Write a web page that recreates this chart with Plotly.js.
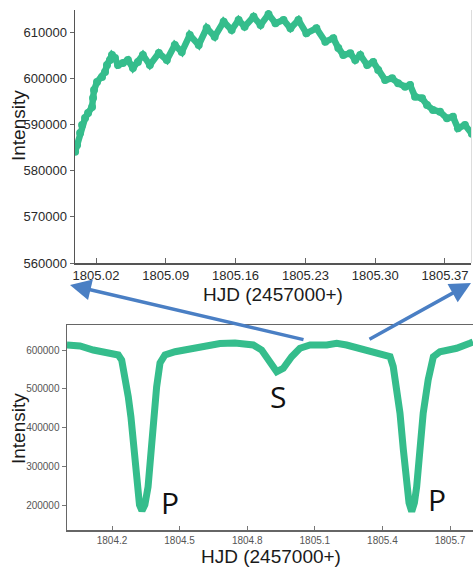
<!DOCTYPE html>
<html>
<head>
<meta charset="utf-8">
<script src="https://cdn.plot.ly/plotly-3.0.1.min.js"></script>
<style>html,body{margin:0;padding:0;background:#fff;}#chart{width:473px;height:569px;}</style>
</head>
<body>
<div id="chart"></div>
<script>
// Zoomed light curve (top panel)
const zoomHJD = [1804.999,1805.001,1805.004,1805.006,1805.009,1805.012,1805.016,1805.017,1805.018,1805.021,
  1805.026,1805.029,1805.031,1805.034,1805.036,1805.039,1805.042,1805.047,1805.052,1805.057,
  1805.062,1805.067,1805.074,1805.083,1805.091,1805.099,1805.106,1805.114,1805.123,1805.131,
  1805.139,1805.148,1805.156,1805.163,1805.169,1805.178,1805.185,1805.193,1805.200,1805.208,
  1805.215,1805.223,1805.231,1805.241,1805.250,1805.258,1805.263,1805.268,1805.275,1805.280,
  1805.285,1805.292,1805.298,1805.303,1805.310,1805.317,1805.323,1805.330,1805.335,1805.340,
  1805.347,1805.352,1805.358,1805.365,1805.372,1805.378,1805.383,1805.390,1805.397];
const zoomIntensity = [584100,585580,588180,589910,591430,592510,593810,595760,597500,599230,
  600310,601400,602910,604000,605080,604430,602910,603350,604000,602260,
  603560,605080,602910,605510,604000,607250,605730,609410,607250,610930,
  609050,612300,610500,612670,611210,613380,611580,613900,611950,612670,
  610870,612670,609780,610870,607960,608700,606600,605080,605450,604000,
  605080,602910,603560,601830,599660,600030,598950,598210,598580,596040,
  595700,594250,593160,592790,591360,591710,589200,589910,588000];

// Full light curve (bottom panel)
const fullHJD = [1804.000,1804.058,1804.117,1804.169,1804.228,1804.243,1804.258,1804.272,1804.284,1804.298,
  1804.311,1804.322,1804.333,1804.346,1804.360,1804.373,1804.383,1804.398,1804.413,1804.435,
  1804.480,1804.546,1804.613,1804.679,1804.746,1804.827,1804.864,1804.901,1804.931,1804.960,
  1804.997,1805.034,1805.079,1805.153,1805.197,1805.241,1805.300,1805.359,1805.434,1805.448,
  1805.463,1805.478,1805.493,1805.508,1805.518,1805.530,1805.542,1805.552,1805.567,1805.581,
  1805.603,1805.626,1805.655,1805.729,1805.788,1805.802];
const fullIntensity = [612900,610300,600000,592300,587100,574200,531200,479700,427300,342300,
  247000,200600,185100,200600,247000,342300,427300,504700,566500,587100,
  595600,602600,610300,616700,618000,612900,600000,569800,544100,552800,
  582700,604400,612900,612900,617300,612900,604400,595600,582700,557000,
  505400,436900,342300,257300,205700,183300,205700,247000,342300,436900,
  522700,582700,595600,604400,617300,620600];

const topYTicks = [560000,570000,580000,590000,600000,610000];
const topXTicks = [1805.02,1805.09,1805.16,1805.23,1805.30,1805.37];
const botYTicks = [200000,300000,400000,500000,600000];
const botXTicks = [1804.2,1804.5,1804.8,1805.1,1805.4,1805.7];
const xTitle = 'HJD (2457000+)';
const yTitle = 'Intensity';
const eclipseLabels = ['P','S','P'];

const green = '#35bd8c';
const blue = '#4a7fc4';
const W = 473, H = 569;
const px = v => v / W;
const py = v => 1 - v / H;

const traces = [
  {x: zoomHJD, y: zoomIntensity, xaxis: 'x', yaxis: 'y', type: 'scatter', mode: 'lines+markers',
   line: {color: green, width: 6.5}, marker: {color: green, size: 8}, hoverinfo: 'x+y'},
  {x: fullHJD, y: fullIntensity, xaxis: 'x2', yaxis: 'y2', type: 'scatter', mode: 'lines',
   line: {color: green, width: 7}, hoverinfo: 'x+y'}
];

const tickFontTop = {family: 'Liberation Sans, Arial, sans-serif', size: 13, color: '#2a2a2a'};
const tickFontBot = {family: 'Liberation Sans, Arial, sans-serif', size: 10, color: '#555'};
const titleFont = {family: 'Liberation Sans, Arial, sans-serif', size: 19, color: '#1a1a1a'};
const labelFont = {family: 'Open Sans, sans-serif', size: 30, color: '#111'};

const layout = {
  width: W, height: H,
  margin: {l: 0, r: 0, t: 0, b: 0},
  paper_bgcolor: '#fff', plot_bgcolor: '#fff',
  showlegend: false,
  xaxis: {domain: [px(75), px(471)], range: [1804.9989, 1805.3961], anchor: 'y',
    tickvals: topXTicks, ticktext: topXTicks.map(v => v.toFixed(2)),
    ticks: 'inside', ticklen: 5, tickcolor: '#666', showgrid: false, zeroline: false,
    showline: true, linecolor: '#555', linewidth: 1.5, tickfont: tickFontTop},
  yaxis: {domain: [py(263), py(10)], range: [560000, 614834], anchor: 'x',
    tickvals: topYTicks, ticktext: topYTicks.map(v => String(v)),
    ticks: 'outside', ticklen: 4, tickcolor: '#666', showgrid: false, zeroline: false,
    showline: true, linecolor: '#555', linewidth: 1.5, tickfont: tickFontTop},
  xaxis2: {domain: [px(67), 1], range: [1804.0003, 1805.802], anchor: 'y2',
    tickvals: botXTicks, ticktext: botXTicks.map(v => v.toFixed(1)),
    ticks: 'inside', ticklen: 4, tickcolor: '#777', showgrid: false, zeroline: false,
    showline: true, mirror: true, linecolor: '#666', linewidth: 1.5, tickfont: tickFontBot},
  yaxis2: {domain: [py(530), py(325)], range: [135500, 664500], anchor: 'x2',
    tickvals: botYTicks, ticktext: botYTicks.map(v => String(v)),
    ticks: 'outside', ticklen: 4, tickcolor: '#777', showgrid: false, zeroline: false,
    showline: true, mirror: true, linecolor: '#666', linewidth: 1.5, tickfont: tickFontBot},
  shapes: [
    {type: 'line', xref: 'paper', yref: 'paper', x0: px(471.5), x1: px(471.5), y0: py(263), y1: py(10),
     line: {color: '#ddd', width: 1}}
  ],
  annotations: [
    {xref: 'paper', yref: 'paper', x: px(273), y: py(294), text: xTitle, showarrow: false,
     font: titleFont, xanchor: 'center', yanchor: 'middle'},
    {xref: 'paper', yref: 'paper', x: px(271), y: py(556), text: xTitle, showarrow: false,
     font: titleFont, xanchor: 'center', yanchor: 'middle'},
    {xref: 'paper', yref: 'paper', x: px(19), y: py(126), text: yTitle, showarrow: false,
     font: titleFont, textangle: -90, xanchor: 'center', yanchor: 'middle'},
    {xref: 'paper', yref: 'paper', x: px(18), y: py(429), text: yTitle, showarrow: false,
     font: titleFont, textangle: -90, xanchor: 'center', yanchor: 'middle'},
    {xref: 'paper', yref: 'paper', x: px(170), y: py(502), text: eclipseLabels[0], showarrow: false,
     font: labelFont, xanchor: 'center', yanchor: 'middle'},
    {xref: 'paper', yref: 'paper', x: px(278), y: py(396), text: eclipseLabels[1], showarrow: false,
     font: labelFont, xanchor: 'center', yanchor: 'middle'},
    {xref: 'paper', yref: 'paper', x: px(437), y: py(499), text: eclipseLabels[2], showarrow: false,
     font: labelFont, xanchor: 'center', yanchor: 'middle'},
    {xref: 'paper', yref: 'paper', x: px(70), y: py(285), text: '', showarrow: true,
     axref: 'pixel', ayref: 'pixel', ax: 235, ay: 55, arrowhead: 2, arrowsize: 1.2,
     arrowwidth: 3.5, arrowcolor: blue, standoff: 0},
    {xref: 'paper', yref: 'paper', x: px(471), y: py(283), text: '', showarrow: true,
     axref: 'pixel', ayref: 'pixel', ax: -103, ay: 57, arrowhead: 2, arrowsize: 1.2,
     arrowwidth: 3.5, arrowcolor: blue, standoff: 0}
  ]
};

Plotly.newPlot('chart', traces, layout, {displayModeBar: false, staticPlot: true});
</script>
</body>
</html>
